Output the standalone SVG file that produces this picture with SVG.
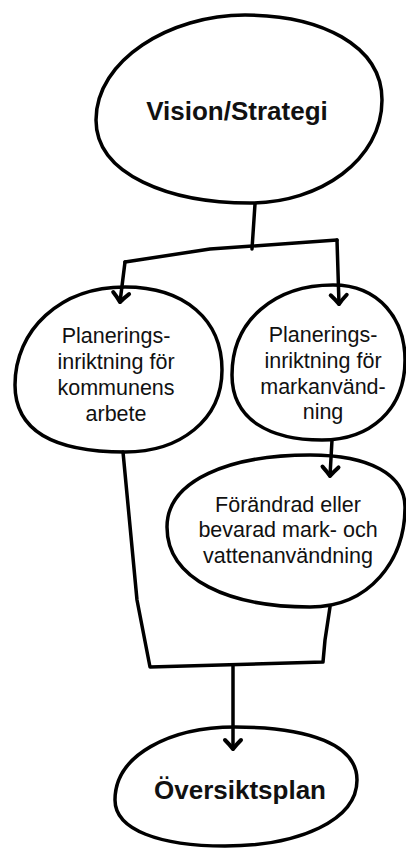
<svg xmlns="http://www.w3.org/2000/svg" width="406" height="848" viewBox="0 0 406 848">
<style>
.shape{fill:#fff;stroke:#000;stroke-width:3.5;stroke-linejoin:round}
.conn{fill:none;stroke:#000;stroke-width:3.5;stroke-linejoin:round;stroke-linecap:round}
.t{font-family:"Liberation Sans",Arial,sans-serif;font-size:21.5px;fill:#111;text-anchor:middle}
.b{font-family:"Liberation Sans",Arial,sans-serif;font-size:26px;font-weight:bold;fill:#111;text-anchor:middle}
</style>
<defs>
<marker id="ah" viewBox="-12 -10 14 20" markerWidth="14" markerHeight="20" refX="0" refY="0" orient="auto" markerUnits="userSpaceOnUse" overflow="visible">
<path d="M-9,-8 Q-4,-3 0,0 Q-4,3 -9,8" fill="none" stroke="#000" stroke-width="4" stroke-linecap="round" stroke-linejoin="round"/>
</marker>
</defs>
<rect width="406" height="848" fill="#fff"/>
<g id="node-vision">
<path class="shape" d="M96,120 C96,60 170,15 245,15 C320,15 382,45 382,100 C382,160 320,203 250,203 C170,203 96,175 96,120 Z"/>
<text class="b" x="237" y="120">Vision/Strategi</text>
</g>
<g id="node-kommun">
<path class="shape" d="M15,385 C15,330 60,287 125,287 C185,287 222,320 222,370 C222,420 180,452 125,452 C60,452 15,435 15,385 Z"/>
<text class="t" x="116" y="343">Planerings-</text>
<text class="t" x="116" y="369">inriktning för</text>
<text class="t" x="116" y="395">kommunens</text>
<text class="t" x="116" y="421">arbete</text>
</g>
<g id="node-mark">
<path class="shape" d="M232,375 C232,320 275,285 333,285 C380,285 405,320 405,360 C405,410 370,440 322,440 C270,440 232,420 232,375 Z"/>
<text class="t" x="323" y="342">Planerings-</text>
<text class="t" x="323" y="368">inriktning för</text>
<text class="t" x="323" y="394">markanvänd-</text>
<text class="t" x="323" y="419">ning</text>
</g>
<g id="node-forandrad">
<path class="shape" d="M167,527 C167,480 230,455 310,455 C370,455 405,475 405,507 C405,560 370,607 310,607 C230,607 167,580 167,527 Z"/>
<text class="t" x="288" y="512">Förändrad eller</text>
<text class="t" x="288" y="537">bevarad mark- och</text>
<text class="t" x="288" y="563">vattenanvändning</text>
</g>
<g id="node-oversikt">
<path class="shape" d="M115,800 C115,755 170,727 235,727 C310,727 357,745 357,780 C357,820 300,846 225,846 C160,846 115,830 115,800 Z"/>
<text class="b" x="240" y="799">Översiktsplan</text>
</g>
<g id="connectors">
<path class="conn" d="M255,204 L252,249"/>
<path class="conn" d="M125,262 L210,249 L337,240"/>
<path class="conn" d="M337,240 L339,304" marker-end="url(#ah)"/>
<path class="conn" d="M125,262 L120,302" marker-end="url(#ah)"/>
<path class="conn" d="M332,440 L330,476" marker-end="url(#ah)"/>
<path class="conn" d="M123,452 L137,600 L150,667 L323,662 L325,640 L330,607"/>
<path class="conn" d="M233,665 L233,749" marker-end="url(#ah)"/>
</g>
</svg>
